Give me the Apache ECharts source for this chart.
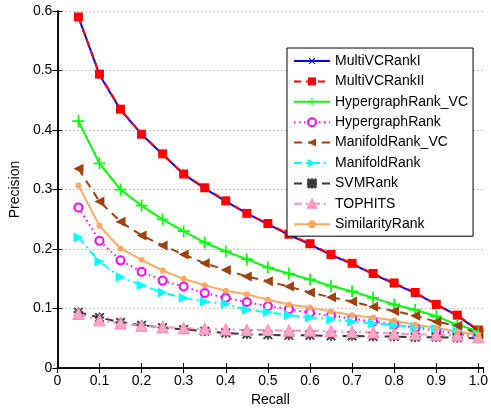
<!DOCTYPE html>
<html>
<head>
<meta charset="utf-8">
<script src="https://cdn.jsdelivr.net/npm/echarts@6/dist/echarts.min.js"></script>
<style>
  html, body { margin: 0; padding: 0; background: #fff; }
  #chart { width: 491px; height: 412px; }
</style>
</head>
<body>
<div id="chart"></div>
<script>
const recall = [0.05, 0.1, 0.15, 0.2, 0.25, 0.3, 0.35, 0.4, 0.45, 0.5, 0.55, 0.6, 0.65, 0.7, 0.75, 0.8, 0.85, 0.9, 0.95, 1.0];

const multiVCRankI = [0.590, 0.493, 0.434, 0.393, 0.359, 0.326, 0.302, 0.280, 0.260, 0.242, 0.224, 0.208, 0.190, 0.175, 0.158, 0.142, 0.126, 0.107, 0.088, 0.063];
const multiVCRankII = [0.590, 0.494, 0.435, 0.393, 0.360, 0.326, 0.303, 0.281, 0.260, 0.243, 0.225, 0.209, 0.191, 0.176, 0.159, 0.143, 0.127, 0.107, 0.089, 0.064];
const hypergraphRankVC = [0.415, 0.344, 0.300, 0.273, 0.250, 0.230, 0.211, 0.196, 0.183, 0.169, 0.159, 0.149, 0.138, 0.129, 0.118, 0.107, 0.098, 0.087, 0.073, 0.062];
const hypergraphRank = [0.270, 0.214, 0.181, 0.162, 0.147, 0.137, 0.126, 0.118, 0.111, 0.104, 0.099, 0.093, 0.088, 0.083, 0.078, 0.073, 0.068, 0.063, 0.058, 0.052];
const manifoldRankVC = [0.335, 0.280, 0.246, 0.223, 0.206, 0.191, 0.176, 0.165, 0.154, 0.146, 0.137, 0.127, 0.119, 0.112, 0.103, 0.096, 0.088, 0.078, 0.071, 0.058];
const manifoldRank = [0.220, 0.179, 0.153, 0.139, 0.127, 0.118, 0.112, 0.108, 0.098, 0.094, 0.089, 0.085, 0.082, 0.078, 0.075, 0.072, 0.069, 0.066, 0.062, 0.056];
const svmRank = [0.094, 0.085, 0.077, 0.072, 0.068, 0.065, 0.062, 0.059, 0.057, 0.056, 0.055, 0.055, 0.054, 0.054, 0.053, 0.053, 0.052, 0.052, 0.051, 0.050];
const tophits = [0.091, 0.080, 0.075, 0.071, 0.069, 0.067, 0.066, 0.065, 0.064, 0.064, 0.063, 0.063, 0.062, 0.061, 0.060, 0.058, 0.057, 0.056, 0.055, 0.052];
const similarityRank = [0.307, 0.239, 0.201, 0.182, 0.164, 0.150, 0.139, 0.130, 0.124, 0.115, 0.107, 0.102, 0.095, 0.089, 0.085, 0.080, 0.073, 0.068, 0.061, 0.056];

const xTicks = [0, 0.1, 0.2, 0.3, 0.4, 0.5, 0.6, 0.7, 0.8, 0.9, 1.0];
const yTicks = [0, 0.1, 0.2, 0.3, 0.4, 0.5, 0.6];

const FONT = 'Liberation Sans, Arial, sans-serif';
const plusPath = 'path://M4.3,0H5.7V4.3H10V5.7H5.7V10H4.3V5.7H0V4.3H4.3Z';
const starPath = 'path://M4.3,0H5.7V4.3H10V5.7H5.7V10H4.3V5.7H0V4.3H4.3Z M1,0L5,4L9,0L10,1L6,5L10,9L9,10L5,6L1,10L0,9L4,5L0,1Z';

const pairs = (ys) => recall.map((x, i) => [x, ys[i]]);

function line(name, ys, color, lineType, symbol, size, extra) {
  return Object.assign({
    name: name,
    type: 'line',
    data: pairs(ys),
    symbol: symbol,
    symbolSize: size,
    showAllSymbol: true,
    animation: false,
    lineStyle: { color: color, width: 2, type: lineType },
    itemStyle: { color: color }
  }, extra || {});
}

const chart = echarts.init(document.getElementById('chart'), null, { renderer: 'canvas' });

const tickFmtX = (v) => {
  if (!xTicks.some((t) => Math.abs(t - v) < 1e-6)) return '';
  return v === 0 ? '0' : v.toFixed(1);
};
const tickFmtY = (v) => (Math.abs(v) < 1e-9 ? '0' : v.toFixed(1));

const axisLine = { show: true, lineStyle: { color: '#000', width: 1.5 } };

chart.setOption({
  backgroundColor: '#fff',
  animation: false,
  grid: { left: 50, right: 7, top: 11, bottom: 31, show: false },
  legend: {
    orient: 'vertical',
    left: 287,
    top: 48,
    itemWidth: 36,
    itemHeight: 10,
    itemGap: 6.4,
    padding: [6, 5, 5, 6],
    backgroundColor: '#fff',
    borderColor: '#000',
    borderWidth: 1,
    textStyle: { fontFamily: FONT, fontSize: 14, color: '#000' },
    data: ['MultiVCRankI', 'MultiVCRankII', 'HypergraphRank_VC', 'HypergraphRank', 'ManifoldRank_VC', 'ManifoldRank', 'SVMRank', 'TOPHITS', 'SimilarityRank']
  },
  xAxis: [
    {
      type: 'value', min: 0, max: 1.012, interval: 0.1,
      name: 'Recall', nameLocation: 'middle', nameGap: 17,
      nameTextStyle: { fontFamily: FONT, fontSize: 14, color: '#000' },
      axisLine: axisLine,
      axisTick: { show: true, inside: true, length: 5, lineStyle: { color: '#000' } },
      axisLabel: { fontFamily: FONT, fontSize: 14, color: '#000', margin: 6, formatter: tickFmtX, showMaxLabel: false },
      splitLine: { show: false }
    },
    {
      type: 'value', min: 0, max: 1.012, interval: 0.1, position: 'top',
      axisLine: axisLine,
      axisTick: { show: true, inside: true, length: 5, lineStyle: { color: '#000' } },
      axisLabel: { show: false },
      splitLine: { show: false }
    }
  ],
  yAxis: [
    {
      type: 'value', min: 0, max: 0.6, interval: 0.1,
      name: 'Precision', nameLocation: 'middle', nameGap: 30, nameRotate: 90,
      nameTextStyle: { fontFamily: FONT, fontSize: 14, color: '#000' },
      axisLine: axisLine,
      axisTick: { show: true, inside: true, length: 5, lineStyle: { color: '#000' } },
      axisLabel: { fontFamily: FONT, fontSize: 14, color: '#000', margin: 5, formatter: tickFmtY },
      splitLine: { show: true, lineStyle: { color: '#808080', width: 1, type: [1, 3] } }
    },
    {
      type: 'value', min: 0, max: 0.6, interval: 0.1, position: 'right',
      axisLine: axisLine,
      axisTick: { show: true, inside: true, length: 5, lineStyle: { color: '#000' } },
      axisLabel: { show: false },
      splitLine: { show: false }
    }
  ],
  series: [
    line('MultiVCRankI', multiVCRankI, '#0000ff', 'solid', plusPath, 9, { symbolRotate: 45 }),
    line('MultiVCRankII', multiVCRankII, '#ff0000', [7, 5], 'rect', 9),
    line('HypergraphRank_VC', hypergraphRankVC, '#00ff00', 'solid', plusPath, 12),
    line('HypergraphRank', hypergraphRank, '#ff00ff', [1.5, 3.5], 'emptyCircle', 8,
      { itemStyle: { color: '#ff00ff', borderColor: '#ff00ff', borderWidth: 2.2 } }),
    line('ManifoldRank_VC', manifoldRankVC, '#a0400c', [8, 6], 'triangle', 10, { symbolRotate: 90 }),
    line('ManifoldRank', manifoldRank, '#00ffff', [8, 4, 2, 4], 'triangle', 10, { symbolRotate: -90 }),
    line('SVMRank', svmRank, '#3a3a3a', [8, 6], starPath, 9,
      { itemStyle: { color: '#3a3a3a', borderColor: '#3a3a3a', borderWidth: 0.8 } }),
    line('TOPHITS', tophits, '#ff8fc0', [8, 4, 2, 4], 'triangle', 11,
      { itemStyle: { color: '#f8a9c8', borderColor: '#ff8fc0', borderWidth: 1.2 } }),
    line('SimilarityRank', similarityRank, '#fba95e', 'solid', 'circle', 6)
  ]
});
</script>
</body>
</html>
